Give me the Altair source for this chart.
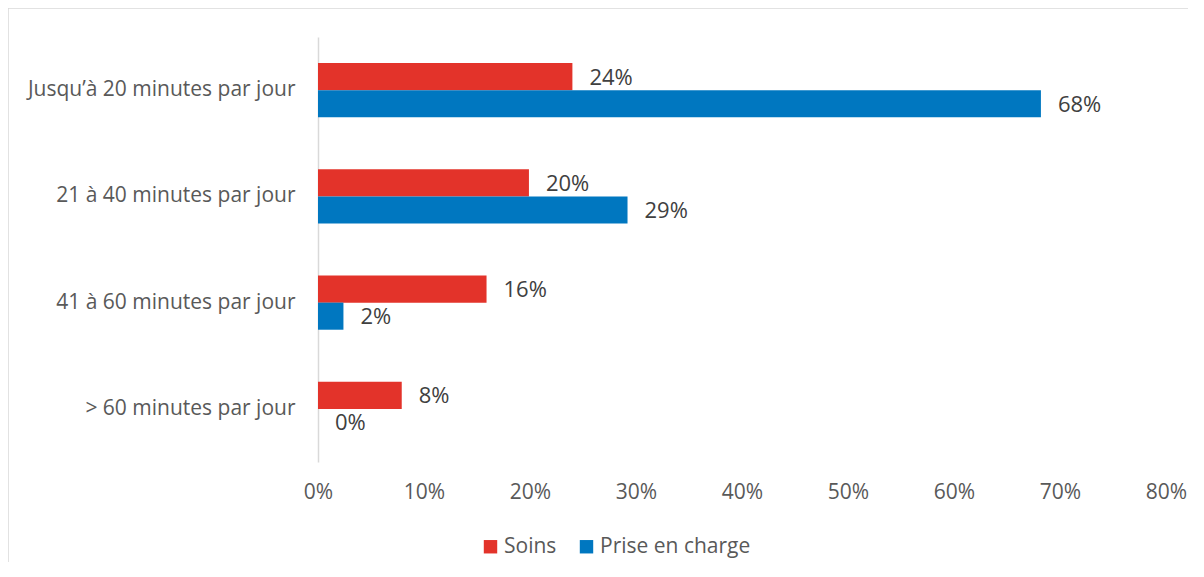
import altair as alt
import pandas as pd

categories = ["Jusqu’à 20 minutes par jour", "21 à 40 minutes par jour",
              "41 à 60 minutes par jour", "> 60 minutes par jour"]
series = ["Soins", "Prise en charge"]
soins = [0.24, 0.199, 0.159, 0.079]
prise = [0.682, 0.292, 0.024, 0.0]
x_ticks = [0, 0.1, 0.2, 0.3, 0.4, 0.5, 0.6, 0.7, 0.8]
colors = ["#E3332A", "#0077C0"]

rows = []
for c, s, p in zip(categories, soins, prise):
    rows.append({"cat": c, "serie": "Soins", "val": s})
    rows.append({"cat": c, "serie": "Prise en charge", "val": p})
df = pd.DataFrame(rows)

FONT = "Open Sans"

y = alt.Y("cat:N", sort=categories, title=None,
          scale=alt.Scale(paddingInner=0.49, paddingOuter=0.245),
          axis=alt.Axis(domainColor="#d9d9d9", domainWidth=1.5, ticks=False,
                        labelPadding=23, labelFontSize=21, labelColor="#595959",
                        labelFont=FONT, labelLimit=400))
x = alt.X("val:Q", title=None,
          scale=alt.Scale(domain=[0, 0.8], nice=False),
          axis=alt.Axis(values=x_ticks, format=".0%", grid=False, domain=False,
                        ticks=False, labelPadding=19, labelFontSize=21,
                        labelFlush=False,
                        labelColor="#595959", labelFont=FONT))
yoff = alt.YOffset("serie:N", sort=series, scale=alt.Scale(paddingInner=0, paddingOuter=0))

bars = alt.Chart(df).mark_bar().encode(
    y=y, x=x, yOffset=yoff,
    color=alt.Color("serie:N", sort=series,
                    scale=alt.Scale(domain=series, range=colors),
                    legend=alt.Legend(title=None, orient="none", legendX=162, legendY=499,
                                      direction="horizontal", symbolType="square",
                                      symbolSize=180, symbolStrokeWidth=0,
                                      labelFontSize=21, labelFont=FONT,
                                      labelColor="#595959", labelOffset=3,
                                      columnPadding=19)),
)

labels = alt.Chart(df).mark_text(align="left", baseline="middle", dx=17, dy=1,
                                 fontSize=22, font=FONT, color="#404040").encode(
    y=alt.Y("cat:N", sort=categories), x="val:Q", yOffset=yoff,
    text=alt.Text("val:Q", format=".0%"),
)

frame = alt.Chart(pd.DataFrame({"a": [0]})).mark_rect(
    filled=False, stroke="#d9d9d9", strokeWidth=1.5).encode(
    x=alt.value(-310), x2=alt.value(1000), y=alt.value(-29), y2=alt.value(700))

chart = alt.layer(frame, bars, labels).properties(
    width=848, height=425,
    autosize=alt.AutoSizeParams(type="none"),
    padding={"left": 310, "top": 29, "right": 22, "bottom": 100},
).configure_view(stroke=None)

chart.save("out.html", embed_options={"renderer": "svg", "actions": False})
